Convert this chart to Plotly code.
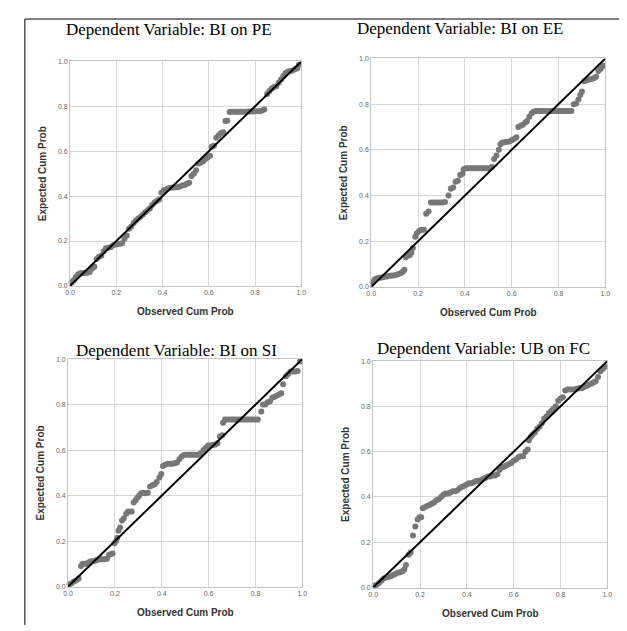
import plotly.graph_objects as go

W, H = 627, 631

titles = ["Dependent Variable: BI on PE", "Dependent Variable: BI on EE",
          "Dependent Variable: BI on SI", "Dependent Variable: UB on FC"]
x_title = "Observed Cum Prob"
y_title = "Expected Cum Prob"
tick_vals = [0.0, 0.2, 0.4, 0.6, 0.8, 1.0]
tick_text = ["0.0", "0.2", "0.4", "0.6", "0.8", "1.0"]
diag_x = [0.0, 1.0]
diag_y = [0.0, 1.0]

pe_obs = [0.006,0.015,0.025,0.035,0.045,0.055,0.065,0.075,0.085,0.095,0.105,0.115,0.125,0.135,0.145,0.155,0.165,0.175,0.185,0.195,
          0.205,0.215,0.225,0.235,0.245,0.255,0.265,0.275,0.285,0.295,0.305,0.315,0.325,0.335,0.345,0.355,0.365,0.375,0.385,0.395,
          0.405,0.415,0.425,0.435,0.445,0.455,0.465,0.475,0.485,0.495,0.505,0.515,0.525,0.535,0.545,0.555,0.565,0.575,0.585,0.595,
          0.605,0.612,0.622,0.632,0.642,0.652,0.662,0.672,0.68,0.69,0.70,0.71,0.72,0.73,0.74,0.75,0.76,0.77,0.78,0.79,
          0.80,0.81,0.82,0.83,0.84,0.852,0.862,0.872,0.882,0.892,0.902,0.912,0.922,0.932,0.942,0.952,0.962,0.972,0.982,0.99]
pe_exp = [0.015,0.025,0.04,0.052,0.057,0.058,0.058,0.059,0.062,0.078,0.086,0.12,0.13,0.135,0.155,0.168,0.17,0.172,0.18,0.185,
          0.186,0.188,0.19,0.21,0.225,0.255,0.265,0.28,0.292,0.30,0.308,0.318,0.328,0.337,0.345,0.36,0.372,0.378,0.385,0.415,
          0.426,0.43,0.435,0.437,0.438,0.44,0.44,0.443,0.447,0.45,0.455,0.46,0.49,0.50,0.515,0.545,0.55,0.555,0.565,0.572,
          0.58,0.62,0.625,0.66,0.67,0.68,0.685,0.735,0.736,0.775,0.776,0.776,0.776,0.776,0.776,0.776,0.776,0.777,0.777,0.777,
          0.778,0.778,0.778,0.782,0.786,0.855,0.868,0.88,0.886,0.89,0.905,0.92,0.935,0.948,0.955,0.958,0.96,0.965,0.97,0.985]

ee_obs = [0.006,0.015,0.025,0.035,0.045,0.055,0.065,0.075,0.085,0.095,0.105,0.115,0.125,0.135,0.142,0.148,0.155,0.165,0.172,0.178,
          0.188,0.195,0.205,0.215,0.225,0.235,0.245,0.255,0.265,0.275,0.285,0.295,0.305,0.315,0.33,0.34,0.35,0.36,0.37,0.38,
          0.39,0.395,0.405,0.415,0.425,0.435,0.445,0.455,0.465,0.475,0.485,0.495,0.505,0.515,0.525,0.535,0.545,0.552,0.56,0.57,
          0.58,0.59,0.60,0.61,0.62,0.628,0.638,0.648,0.658,0.665,0.675,0.685,0.695,0.705,0.715,0.725,0.735,0.745,0.755,0.765,
          0.775,0.785,0.795,0.805,0.815,0.825,0.835,0.845,0.855,0.865,0.875,0.885,0.893,0.90,0.91,0.92,0.93,0.94,0.95,0.96,
          0.97,0.98,0.99]
ee_exp = [0.02,0.033,0.038,0.04,0.041,0.043,0.046,0.048,0.05,0.05,0.052,0.055,0.06,0.066,0.075,0.13,0.135,0.14,0.15,0.17,
          0.22,0.235,0.245,0.25,0.25,0.32,0.33,0.37,0.37,0.37,0.37,0.37,0.37,0.372,0.40,0.43,0.435,0.46,0.465,0.49,
          0.495,0.515,0.52,0.52,0.52,0.52,0.52,0.52,0.52,0.52,0.52,0.52,0.52,0.525,0.56,0.575,0.60,0.625,0.632,0.633,
          0.635,0.637,0.642,0.648,0.655,0.70,0.705,0.71,0.72,0.725,0.745,0.76,0.768,0.77,0.77,0.77,0.77,0.77,0.77,0.77,
          0.77,0.77,0.77,0.77,0.77,0.77,0.77,0.77,0.77,0.80,0.803,0.82,0.84,0.855,0.90,0.905,0.908,0.91,0.913,0.92,
          0.945,0.955,0.968]

si_obs = [0.006,0.015,0.025,0.035,0.045,0.055,0.062,0.07,0.078,0.086,0.094,0.102,0.11,0.118,0.126,0.134,0.142,0.15,0.158,0.166,
          0.175,0.183,0.19,0.198,0.205,0.21,0.215,0.222,0.23,0.238,0.248,0.256,0.264,0.272,0.28,0.288,0.296,0.304,0.312,0.32,
          0.33,0.34,0.35,0.36,0.37,0.378,0.39,0.398,0.405,0.415,0.425,0.435,0.445,0.455,0.465,0.475,0.485,0.495,0.505,0.515,
          0.525,0.535,0.545,0.555,0.565,0.578,0.588,0.598,0.608,0.618,0.628,0.638,0.648,0.658,0.662,0.67,0.68,0.69,0.70,0.71,
          0.72,0.73,0.74,0.75,0.76,0.77,0.78,0.79,0.80,0.81,0.825,0.832,0.842,0.852,0.862,0.872,0.882,0.892,0.902,0.91,
          0.918,0.93,0.94,0.95,0.96,0.97,0.98,0.99]
si_exp = [0.01,0.015,0.022,0.028,0.035,0.09,0.10,0.10,0.10,0.105,0.11,0.11,0.112,0.115,0.118,0.12,0.12,0.12,0.12,0.122,
          0.14,0.143,0.145,0.19,0.20,0.215,0.245,0.26,0.29,0.30,0.32,0.33,0.33,0.33,0.37,0.38,0.39,0.40,0.41,0.412,
          0.41,0.412,0.44,0.445,0.45,0.46,0.48,0.495,0.53,0.535,0.54,0.54,0.54,0.542,0.545,0.56,0.572,0.578,0.58,0.58,
          0.58,0.58,0.58,0.58,0.585,0.60,0.61,0.62,0.62,0.622,0.625,0.63,0.66,0.665,0.72,0.735,0.735,0.735,0.735,0.735,
          0.735,0.735,0.735,0.735,0.735,0.735,0.735,0.735,0.735,0.735,0.77,0.80,0.80,0.81,0.815,0.83,0.835,0.84,0.845,0.85,
          0.89,0.925,0.935,0.945,0.945,0.945,0.948,0.99]

fc_obs = [0.006,0.015,0.025,0.035,0.045,0.055,0.065,0.075,0.085,0.095,0.105,0.115,0.125,0.133,0.14,0.152,0.16,0.17,0.18,0.19,
          0.198,0.205,0.212,0.22,0.23,0.24,0.25,0.26,0.27,0.28,0.29,0.30,0.31,0.32,0.33,0.34,0.35,0.36,0.37,0.38,
          0.39,0.40,0.41,0.42,0.43,0.44,0.45,0.46,0.47,0.48,0.49,0.50,0.51,0.52,0.53,0.54,0.55,0.56,0.57,0.58,
          0.59,0.60,0.61,0.62,0.63,0.64,0.65,0.66,0.665,0.672,0.68,0.69,0.70,0.71,0.72,0.73,0.74,0.75,0.76,0.77,
          0.78,0.79,0.80,0.81,0.82,0.83,0.84,0.85,0.86,0.87,0.88,0.89,0.90,0.91,0.92,0.93,0.94,0.95,0.96,0.97,
          0.98,0.99]
fc_exp = [0.008,0.012,0.02,0.03,0.04,0.045,0.047,0.05,0.055,0.06,0.065,0.068,0.072,0.08,0.10,0.145,0.155,0.23,0.27,0.30,
          0.31,0.31,0.35,0.355,0.36,0.365,0.37,0.375,0.385,0.39,0.40,0.41,0.415,0.415,0.42,0.425,0.425,0.43,0.44,0.445,
          0.45,0.455,0.46,0.46,0.465,0.47,0.47,0.475,0.48,0.485,0.49,0.49,0.495,0.495,0.50,0.52,0.53,0.535,0.54,0.545,
          0.55,0.56,0.565,0.575,0.58,0.58,0.60,0.61,0.65,0.665,0.675,0.685,0.70,0.71,0.725,0.745,0.755,0.77,0.78,0.79,
          0.80,0.825,0.835,0.84,0.87,0.875,0.875,0.875,0.875,0.878,0.88,0.88,0.885,0.89,0.895,0.90,0.905,0.91,0.93,0.955,
          0.965,0.975]

panels = [(pe_obs, pe_exp), (ee_obs, ee_exp), (si_obs, si_exp), (fc_obs, fc_exp)]

# plot-area pixel boxes: (left, right, top, bottom)
boxes = [(58, 293, 50, 277), (364, 602, 47, 278), (56, 294, 351, 581), (366, 604, 353, 582)]
title_pos = [(159, 18), (454, 17), (166, 342), (478, 340)]

def px(x):
    return x / W

def py(y):
    return 1 - y / H

fig = go.Figure()
annotations = []
for i, ((ox, ey), (l, r, t, b)) in enumerate(zip(panels, boxes)):
    sx = "" if i == 0 else str(i + 1)
    xa, ya = "x" + sx, "y" + sx
    fig.add_trace(go.Scatter(x=ox, y=ey, xaxis=xa, yaxis=ya, mode="markers",
                             marker=dict(color="#777777", size=6, line=dict(width=0)),
                             cliponaxis=False, showlegend=False, hoverinfo="skip"))
    fig.add_trace(go.Scatter(x=diag_x, y=diag_y, xaxis=xa, yaxis=ya, mode="lines",
                             line=dict(color="black", width=2), cliponaxis=False,
                             showlegend=False, hoverinfo="skip"))
    axcommon = dict(range=[0, 1], tickvals=tick_vals, ticktext=tick_text, showgrid=True,
                    gridcolor="#d6d6d6", gridwidth=1, zeroline=False, showline=True,
                    linecolor="#c4c4c4", linewidth=1, mirror=True, ticks="",
                    tickfont=dict(family="Liberation Sans, Arial", size=7, color="#666666"))
    fig.update_layout(**{
        ("xaxis" + sx): dict(domain=[px(l), px(r)], anchor=ya, **axcommon),
        ("yaxis" + sx): dict(domain=[py(b), py(t)], anchor=xa, **axcommon),
    })
    tx, ty = title_pos[i]
    annotations.append(dict(text=titles[i], x=px(tx), y=py(ty), xref="paper", yref="paper",
                            xanchor="center", yanchor="middle", showarrow=False,
                            font=dict(family="Liberation Serif, Times New Roman", size=17, color="black")))
    annotations.append(dict(text="<b>" + x_title + "</b>", x=px((l + r) / 2), y=py(b + 26),
                            xref="paper", yref="paper", xanchor="center", yanchor="middle",
                            showarrow=False,
                            font=dict(family="Liberation Sans, Arial", size=10, color="#333333")))
    annotations.append(dict(text="<b>" + y_title + "</b>", x=px(l - 28), y=py((t + b) / 2),
                            xref="paper", yref="paper", xanchor="center", yanchor="middle",
                            showarrow=False, textangle=-90,
                            font=dict(family="Liberation Sans, Arial", size=10, color="#333333")))

shapes = [
    dict(type="line", xref="paper", yref="paper", x0=px(12), x1=1, y0=py(7), y1=py(7),
         line=dict(color="#555555", width=1.5)),
    dict(type="line", xref="paper", yref="paper", x0=px(12), x1=px(12), y0=py(7), y1=py(620),
         line=dict(color="#555555", width=1.5)),
]

fig.update_layout(width=W, height=H, autosize=False, margin=dict(l=0, r=0, t=0, b=0),
                  paper_bgcolor="white", plot_bgcolor="white",
                  annotations=annotations, shapes=shapes)

fig.write_html("out.html")
